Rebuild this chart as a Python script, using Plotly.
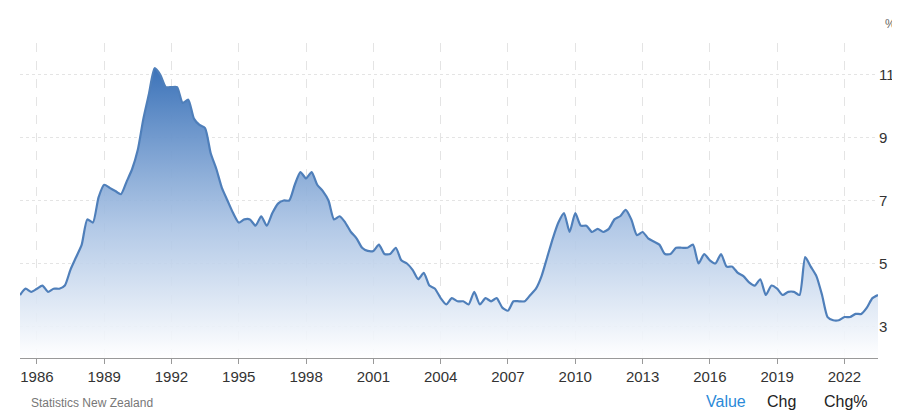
import pandas as pd
import plotly.graph_objects as go

values = [4.0,4.2,4.1,4.2,4.3,4.1,4.2,4.2,4.3,4.8,
          5.2,5.6,6.4,6.3, 7.1,7.5,7.4,7.3, 7.2,7.6,8.0,8.6, 9.6,10.4,11.2,11.0,
          10.6,10.6,10.6,10.1, 10.2,9.6,9.4,9.3, 8.5,8.0,7.4,7.0, 6.6,6.3,6.4,6.4,
          6.2,6.5,6.2,6.6, 6.9,7.0,7.0,7.5, 7.9,7.7,7.9,7.5, 7.3,7.0,6.4,6.5,
          6.3,6.0,5.8,5.5, 5.4,5.4,5.6,5.3, 5.3,5.5,5.1,5.0, 4.8,4.5,4.7,4.3,
          4.2,3.9,3.7,3.9, 3.8,3.8,3.7,4.1, 3.7,3.9,3.8,3.9, 3.6,3.5,3.8,3.8,
          3.8,4.0,4.2,4.6, 5.2,5.8,6.3,6.6, 6.0,6.6,6.2,6.2, 6.0,6.1,6.0,6.1,
          6.4,6.5,6.7,6.4, 5.9,6.0,5.8,5.7, 5.6,5.3,5.3,5.5, 5.5,5.5,5.6,5.0,
          5.3,5.1,5.0,5.3, 4.9,4.9,4.7,4.6, 4.4,4.3,4.5,4.0, 4.3,4.2,4.0,4.1,
          4.1,4.0,5.2,4.9, 4.6,4.0,3.3,3.2, 3.2,3.3,3.3,3.4, 3.4,3.6,3.9,4.0]
dates = pd.date_range(start="1985-04-01", periods=len(values), freq="QS")
tick_years = list(range(1986, 2023, 3))
y_ticks = [3, 5, 7, 9, 11]

fig = go.Figure()
fig.add_trace(go.Scatter(x=dates, y=[2.0]*len(values), mode="lines",
                         line=dict(width=0), hoverinfo="skip", showlegend=False))
fig.add_trace(go.Scatter(x=dates, y=values, mode="lines", fill="tonexty",
                         line=dict(color="#4f7fba", width=2.2, shape="spline", smoothing=0.6),
                         fillgradient=dict(type="vertical",
                                           colorscale=[[0, "rgba(255,255,255,0.9)"],
                                                       [0.45, "rgba(170,195,228,0.9)"],
                                                       [1, "rgba(60,115,185,1)"]]),
                         showlegend=False))

fig.update_layout(
    width=900, height=420, paper_bgcolor="white", plot_bgcolor="white",
    margin=dict(l=12, r=30, t=35, b=70),
    font=dict(family="Liberation Sans, Arial", size=14, color="#333"),
    xaxis=dict(range=[dates[0], dates[-1]],
               tickvals=[pd.Timestamp(f"{y}-01-01") for y in tick_years],
               ticktext=[str(y) for y in tick_years],
               showgrid=True, gridcolor="#e4e4e4", griddash="dash",
               showline=True, linecolor="#999", ticks="outside", tickcolor="#999",
               ticklen=5, tickfont=dict(size=15, color="#333")),
    yaxis=dict(range=[2, 12], side="right", tickvals=y_ticks,
               showgrid=True, gridcolor="#e4e4e4", griddash="dot",
               zeroline=False, tickfont=dict(size=15, color="#333")),
    annotations=[
        dict(text="%", x=1.0, y=1.0, xref="paper", yref="paper", xanchor="left",
             yanchor="bottom", xshift=5, yshift=10, showarrow=False,
             font=dict(size=12, color="#666")),
        dict(text="Statistics New Zealand", x=0.011, y=-0.17, xref="paper", yref="paper",
             showarrow=False, font=dict(size=12, color="#777"), xanchor="left"),
    ],
)
fig.add_annotation(text="Value", x=0.797, y=-0.17, xref="paper", yref="paper",
                   showarrow=False, xanchor="left", font=dict(size=16, color="#2b8ad8"))
fig.add_annotation(text="Chg", x=0.868, y=-0.17, xref="paper", yref="paper",
                   showarrow=False, xanchor="left", font=dict(size=16, color="#222"))
fig.add_annotation(text="Chg%", x=0.935, y=-0.17, xref="paper", yref="paper",
                   showarrow=False, xanchor="left", font=dict(size=16, color="#222"))
fig.write_html("out.html")
